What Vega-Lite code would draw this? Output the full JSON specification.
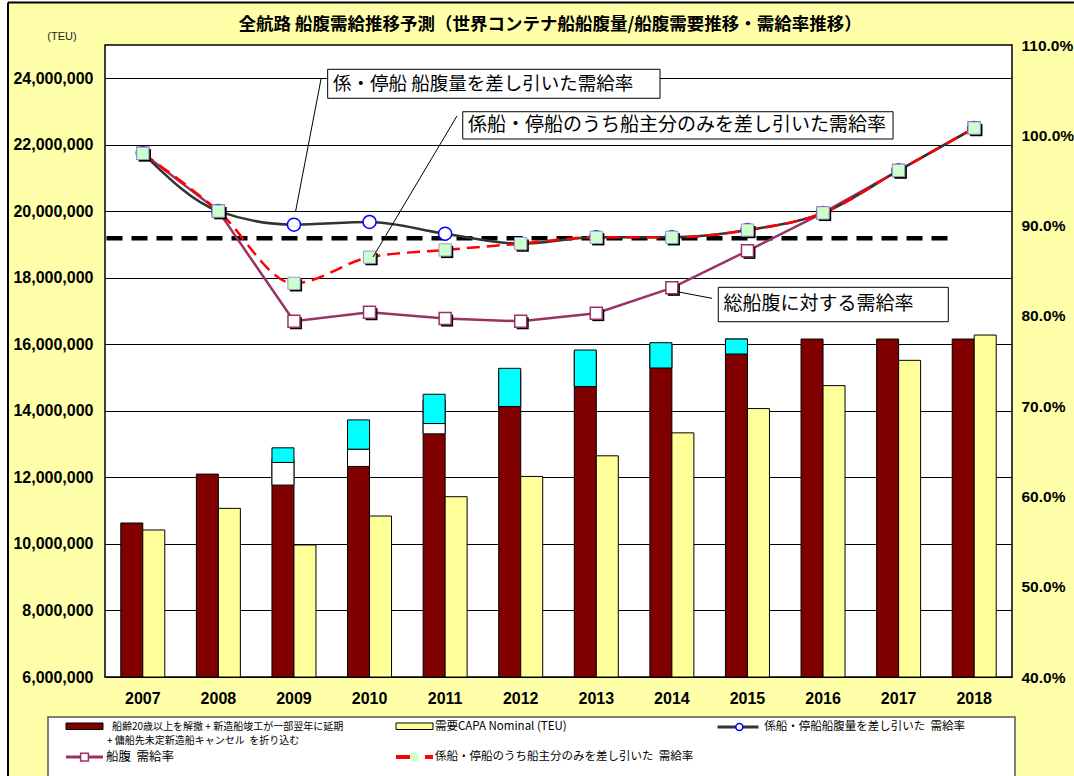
{
  "$schema": "https://vega.github.io/schema/vega-lite/v6.json",
  "width": 907,
  "height": 632,
  "autosize": {"type": "none"},
  "padding": {"left": 105, "top": 45, "right": 62, "bottom": 99},
  "background": "#FFFFAA",
  "config": {"view": {"fill": "white", "stroke": "black", "strokeWidth": 1.5}},
  "resolve": {"scale": {"x": "independent", "y": "independent"}},
  "layer": [
    {
      "data": {"values": [
        {"year": "2007", "series": "船腹", "teu": 10630000},
        {"year": "2008", "series": "船腹", "teu": 12100000},
        {"year": "2009", "series": "船腹", "teu": 12550000},
        {"year": "2010", "series": "船腹", "teu": 13460000},
        {"year": "2011", "series": "船腹", "teu": 14330000},
        {"year": "2012", "series": "船腹", "teu": 15180000},
        {"year": "2013", "series": "船腹", "teu": 15770000},
        {"year": "2014", "series": "船腹", "teu": 16010000},
        {"year": "2015", "series": "船腹", "teu": 16160000},
        {"year": "2016", "series": "船腹", "teu": 16160000},
        {"year": "2017", "series": "船腹", "teu": 16160000},
        {"year": "2018", "series": "船腹", "teu": 16160000},
        {"year": "2007", "series": "需要CAPA", "teu": 10420000},
        {"year": "2008", "series": "需要CAPA", "teu": 11070000},
        {"year": "2009", "series": "需要CAPA", "teu": 9970000},
        {"year": "2010", "series": "需要CAPA", "teu": 10840000},
        {"year": "2011", "series": "需要CAPA", "teu": 11420000},
        {"year": "2012", "series": "需要CAPA", "teu": 12030000},
        {"year": "2013", "series": "需要CAPA", "teu": 12650000},
        {"year": "2014", "series": "需要CAPA", "teu": 13340000},
        {"year": "2015", "series": "需要CAPA", "teu": 14070000},
        {"year": "2016", "series": "需要CAPA", "teu": 14760000},
        {"year": "2017", "series": "需要CAPA", "teu": 15520000},
        {"year": "2018", "series": "需要CAPA", "teu": 16280000}
      ]},
      "layer": [
        {
          "mark": {"type": "bar", "stroke": "black", "strokeWidth": 1},
          "encoding": {
            "x": {"field": "year", "type": "ordinal", "title": null, "scale": {"type": "band", "paddingInner": 0, "paddingOuter": 0},
                  "axis": {"orient": "bottom", "labelAngle": 0, "labelFont": "Liberation Sans", "labelFontWeight": "bold", "labelFontSize": 16, "labelColor": "black", "labelPadding": 13, "ticks": false, "domain": false, "grid": false, "title": null}},
            "xOffset": {"field": "series", "type": "nominal", "scale": {"domain": ["船腹", "需要CAPA"], "paddingInner": 0, "paddingOuter": 0.718}},
            "y": {"field": "teu", "type": "quantitative", "title": null, "scale": {"domain": [6000000, 25000000], "nice": false, "zero": false},
                  "axis": {"orient": "left", "values": [6000000, 8000000, 10000000, 12000000, 14000000, 16000000, 18000000, 20000000, 22000000, 24000000], "labelExpr": "format(datum.value, ',')", "labelFont": "Liberation Sans", "labelFontWeight": "bold", "labelFontSize": 16, "labelColor": "black", "labelPadding": 12, "ticks": false, "domain": false, "grid": true, "gridColor": "black", "gridWidth": 1, "gridOpacity": 1, "title": null}},
            "y2": {"datum": 6000000},
            "color": {"field": "series", "type": "nominal", "scale": {"domain": ["船腹", "需要CAPA", "停船", "船主分"], "range": ["#800000", "#FFFF99", "#00FFFF", "#FFFFFF"]}, "legend": null}
          }
        },
        {
          "data": {"values": [
            {"year": "2009", "series": "船腹", "part": "船主分", "lo": 11770000, "hi": 12450000},
            {"year": "2009", "series": "船腹", "part": "停船", "lo": 12450000, "hi": 12890000},
            {"year": "2010", "series": "船腹", "part": "船主分", "lo": 12330000, "hi": 12850000},
            {"year": "2010", "series": "船腹", "part": "停船", "lo": 12850000, "hi": 13730000},
            {"year": "2011", "series": "船腹", "part": "船主分", "lo": 13310000, "hi": 13620000},
            {"year": "2011", "series": "船腹", "part": "停船", "lo": 13620000, "hi": 14500000},
            {"year": "2012", "series": "船腹", "part": "停船", "lo": 14130000, "hi": 15280000},
            {"year": "2013", "series": "船腹", "part": "停船", "lo": 14730000, "hi": 15830000},
            {"year": "2014", "series": "船腹", "part": "停船", "lo": 15290000, "hi": 16050000},
            {"year": "2015", "series": "船腹", "part": "停船", "lo": 15710000, "hi": 16160000}
          ]},
          "mark": {"type": "bar", "stroke": "black", "strokeWidth": 1},
          "encoding": {
            "x": {"field": "year", "type": "ordinal", "title": null},
            "xOffset": {"field": "series", "type": "nominal"},
            "y": {"field": "lo", "type": "quantitative", "title": null,
                  "axis": {"orient": "left", "values": [6000000, 8000000, 10000000, 12000000, 14000000, 16000000, 18000000, 20000000, 22000000, 24000000], "labelExpr": "format(datum.value, ',')", "labelFont": "Liberation Sans", "labelFontWeight": "bold", "labelFontSize": 16, "labelColor": "black", "labelPadding": 12, "ticks": false, "domain": false, "grid": true, "gridColor": "black", "gridWidth": 1, "gridOpacity": 1, "title": null}},
            "y2": {"field": "hi"},
            "color": {"field": "part", "type": "nominal", "legend": null}
          }
        }
      ]
    },
    {
      "data": {"values": [{}]},
      "mark": {"type": "rule", "stroke": "black", "strokeWidth": 4.5, "strokeDash": [16, 9]},
      "encoding": {
        "x": {"datum": 0.02, "type": "quantitative", "scale": {"domain": [0, 12], "nice": false, "zero": false}, "axis": null},
        "x2": {"datum": 11.22},
        "y": {"datum": 0.886, "type": "quantitative", "scale": {"domain": [0.4, 1.1], "nice": false, "zero": false}, "axis": null}
      }
    },
    {
      "data": {"values": [
        {"year": "2007", "series": "総船腹", "rate": 0.980},
        {"year": "2008", "series": "総船腹", "rate": 0.916},
        {"year": "2009", "series": "総船腹", "rate": 0.794},
        {"year": "2010", "series": "総船腹", "rate": 0.804},
        {"year": "2011", "series": "総船腹", "rate": 0.797},
        {"year": "2012", "series": "総船腹", "rate": 0.794},
        {"year": "2013", "series": "総船腹", "rate": 0.803},
        {"year": "2014", "series": "総船腹", "rate": 0.831},
        {"year": "2015", "series": "総船腹", "rate": 0.872},
        {"year": "2016", "series": "総船腹", "rate": 0.914},
        {"year": "2017", "series": "総船腹", "rate": 0.961},
        {"year": "2018", "series": "総船腹", "rate": 1.008},
        {"year": "2007", "series": "係船停船控除", "rate": 0.980},
        {"year": "2008", "series": "係船停船控除", "rate": 0.916},
        {"year": "2009", "series": "係船停船控除", "rate": 0.901},
        {"year": "2010", "series": "係船停船控除", "rate": 0.904},
        {"year": "2011", "series": "係船停船控除", "rate": 0.891},
        {"year": "2012", "series": "係船停船控除", "rate": 0.880},
        {"year": "2013", "series": "係船停船控除", "rate": 0.887},
        {"year": "2014", "series": "係船停船控除", "rate": 0.887},
        {"year": "2015", "series": "係船停船控除", "rate": 0.895},
        {"year": "2016", "series": "係船停船控除", "rate": 0.914},
        {"year": "2017", "series": "係船停船控除", "rate": 0.961},
        {"year": "2018", "series": "係船停船控除", "rate": 1.008},
        {"year": "2007", "series": "船主分控除", "rate": 0.980},
        {"year": "2008", "series": "船主分控除", "rate": 0.916},
        {"year": "2009", "series": "船主分控除", "rate": 0.836},
        {"year": "2010", "series": "船主分控除", "rate": 0.865},
        {"year": "2011", "series": "船主分控除", "rate": 0.873},
        {"year": "2012", "series": "船主分控除", "rate": 0.880},
        {"year": "2013", "series": "船主分控除", "rate": 0.887},
        {"year": "2014", "series": "船主分控除", "rate": 0.887},
        {"year": "2015", "series": "船主分控除", "rate": 0.895},
        {"year": "2016", "series": "船主分控除", "rate": 0.914},
        {"year": "2017", "series": "船主分控除", "rate": 0.961},
        {"year": "2018", "series": "船主分控除", "rate": 1.008}
      ]},
      "encoding": {
        "x": {"field": "year", "type": "ordinal", "scale": {"type": "band", "paddingInner": 0, "paddingOuter": 0}, "axis": null},
        "y": {"field": "rate", "type": "quantitative", "scale": {"domain": [0.4, 1.1], "nice": false, "zero": false},
              "axis": {"orient": "right", "values": [0.4, 0.5, 0.6, 0.7, 0.8, 0.9, 1.0, 1.1], "format": ".1%", "labelFont": "Liberation Sans", "labelFontWeight": "bold", "labelFontSize": 15.5, "labelColor": "black", "labelPadding": 9, "ticks": false, "domain": false, "grid": false, "title": null}}
      },
      "layer": [
        {"transform": [{"filter": "datum.series === '総船腹'"}], "mark": {"type": "line", "stroke": "#993366", "strokeWidth": 2.5}, "encoding": {}},
        {"transform": [{"filter": "datum.series === '総船腹'"}], "mark": {"type": "point", "shape": "square", "size": 144, "filled": true, "fill": "black", "opacity": 1, "xOffset": 2, "yOffset": 2}},
        {"transform": [{"filter": "datum.series === '総船腹'"}], "mark": {"type": "point", "shape": "square", "size": 144, "filled": true, "fill": "white", "stroke": "#993366", "strokeWidth": 1.5, "opacity": 1}},
        {"transform": [{"filter": "datum.series === '係船停船控除'"}], "mark": {"type": "line", "stroke": "#333333", "strokeWidth": 2.5, "interpolate": "monotone"}, "encoding": {}},
        {"transform": [{"filter": "datum.series === '係船停船控除'"}], "mark": {"type": "point", "shape": "circle", "size": 170, "filled": true, "fill": "white", "stroke": "#0000FF", "strokeWidth": 1.5, "opacity": 1}},
        {"transform": [{"filter": "datum.series === '船主分控除'"}], "mark": {"type": "line", "stroke": "#FF0000", "strokeWidth": 2.5, "strokeDash": [13, 7], "interpolate": "monotone"}, "encoding": {}},
        {"transform": [{"filter": "datum.series === '船主分控除'"}], "mark": {"type": "point", "shape": "square", "size": 150, "filled": true, "fill": "black", "opacity": 1, "xOffset": 2, "yOffset": 2}},
        {"transform": [{"filter": "datum.series === '船主分控除'"}], "mark": {"type": "point", "shape": "square", "size": 150, "filled": true, "fill": "#CCFFCC", "stroke": "#9999CC", "strokeWidth": 1, "opacity": 1}}
      ]
    },
    {
      "data": {"values": [{}]},
      "layer": [
        {"mark": {"type": "rect", "fill": "white"}, "encoding": {"x": {"datum": -1.3893, "type": "quantitative", "scale": {"domain": [0, 12], "nice": false, "zero": false}, "axis": null}, "x2": {"datum": -1.2834}, "y": {"datum": 0.2638, "type": "quantitative", "scale": {"domain": [0.4, 1.1], "nice": false, "zero": false}, "axis": null}, "y2": {"datum": 1.1498}}},
        {"mark": {"type": "rect", "fill": "white"}, "encoding": {"x": {"datum": -1.3893, "type": "quantitative", "axis": null}, "x2": {"datum": 12.82}, "y": {"datum": 1.1476, "type": "quantitative", "axis": null}, "y2": {"datum": 1.1498}}},
        {"mark": {"type": "rule", "stroke": "black", "strokeWidth": 2}, "encoding": {"x": {"datum": -1.2834, "type": "quantitative", "axis": null}, "y": {"datum": 0.2638, "type": "quantitative", "axis": null}, "y2": {"datum": 1.1471}}},
        {"mark": {"type": "rule", "stroke": "black", "strokeWidth": 2}, "encoding": {"x": {"datum": -1.2834, "type": "quantitative", "axis": null}, "x2": {"datum": 12.82}, "y": {"datum": 1.1471, "type": "quantitative", "axis": null}}},
        {"mark": {"type": "text", "align": "center", "baseline": "middle", "font": "Noto Sans CJK JP", "fontSize": 17.5, "fontWeight": "bold", "color": "black"}, "encoding": {"x": {"datum": 5.888, "type": "quantitative", "axis": null}, "y": {"datum": 1.1221, "type": "quantitative", "axis": null}, "text": {"value": "全航路 船腹需給推移予測（世界コンテナ船船腹量/船腹需要推移・需給率推移）"}}},
        {"mark": {"type": "text", "align": "center", "baseline": "middle", "font": "Liberation Sans", "fontSize": 11, "color": "#222222"}, "encoding": {"x": {"datum": -0.569, "type": "quantitative", "axis": null}, "y": {"datum": 1.1089, "type": "quantitative", "axis": null}, "text": {"value": "(TEU)"}}},

        {"mark": {"type": "rule", "stroke": "black", "strokeWidth": 1}, "encoding": {"x": {"datum": 2.858, "type": "quantitative", "axis": null}, "y": {"datum": 1.0623, "type": "quantitative", "axis": null}, "x2": {"datum": 2.52}, "y2": {"datum": 0.915}}},
        {"mark": {"type": "rule", "stroke": "black", "strokeWidth": 1}, "encoding": {"x": {"datum": 4.657, "type": "quantitative", "axis": null}, "y": {"datum": 1.0214, "type": "quantitative", "axis": null}, "x2": {"datum": 3.546}, "y2": {"datum": 0.8652}}},
        {"mark": {"type": "rule", "stroke": "black", "strokeWidth": 1}, "encoding": {"x": {"datum": 8.031, "type": "quantitative", "axis": null}, "y": {"datum": 0.8194, "type": "quantitative", "axis": null}, "x2": {"datum": 7.568}, "y2": {"datum": 0.8268}}},
        {"mark": {"type": "rect", "fill": "white", "stroke": "black", "strokeWidth": 1}, "encoding": {"x": {"datum": 2.946, "type": "quantitative", "axis": null}, "x2": {"datum": 7.343}, "y": {"datum": 1.0731, "type": "quantitative", "axis": null}, "y2": {"datum": 1.041}}},
        {"mark": {"type": "rect", "fill": "white", "stroke": "black", "strokeWidth": 1}, "encoding": {"x": {"datum": 4.733, "type": "quantitative", "axis": null}, "x2": {"datum": 10.426}, "y": {"datum": 1.0261, "type": "quantitative", "axis": null}, "y2": {"datum": 0.9959}}},
        {"mark": {"type": "rect", "fill": "white", "stroke": "black", "strokeWidth": 1}, "encoding": {"x": {"datum": 8.114, "type": "quantitative", "axis": null}, "x2": {"datum": 11.157}, "y": {"datum": 0.8316, "type": "quantitative", "axis": null}, "y2": {"datum": 0.7935}}},
        {"mark": {"type": "text", "align": "left", "baseline": "middle", "font": "Noto Sans CJK JP", "fontSize": 18.5, "color": "black"}, "encoding": {"x": {"datum": 3.017, "type": "quantitative", "axis": null}, "y": {"datum": 1.0568, "type": "quantitative", "axis": null}, "text": {"value": "係・停船 船腹量を差し引いた需給率"}}},
        {"mark": {"type": "text", "align": "left", "baseline": "middle", "font": "Noto Sans CJK JP", "fontSize": 19, "color": "black"}, "encoding": {"x": {"datum": 4.803, "type": "quantitative", "axis": null}, "y": {"datum": 1.0111, "type": "quantitative", "axis": null}, "text": {"value": "係船・停船のうち船主分のみを差し引いた需給率"}}},
        {"mark": {"type": "text", "align": "left", "baseline": "middle", "font": "Noto Sans CJK JP", "fontSize": 19, "color": "black"}, "encoding": {"x": {"datum": 8.183, "type": "quantitative", "axis": null}, "y": {"datum": 0.8126, "type": "quantitative", "axis": null}, "text": {"value": "総船腹に対する需給率"}}},

        {"mark": {"type": "rect", "fill": "white", "stroke": "#555555", "strokeWidth": 1.5}, "encoding": {"x": {"datum": -0.7541, "type": "quantitative", "axis": null}, "x2": {"datum": 12.0397}, "y": {"datum": 0.3557, "type": "quantitative", "axis": null}, "y2": {"datum": 0.2638}}},
        {"mark": {"type": "rect", "fill": "#800000", "stroke": "black", "strokeWidth": 1}, "encoding": {"x": {"datum": -0.516, "type": "quantitative", "axis": null}, "x2": {"datum": -0.0265}, "y": {"datum": 0.34905, "type": "quantitative", "axis": null}, "y2": {"datum": 0.34185}}},
        {"mark": {"type": "text", "align": "left", "baseline": "middle", "font": "Noto Sans CJK JP", "fontSize": 10, "color": "black"}, "encoding": {"x": {"datum": 0.0926, "type": "quantitative", "axis": null}, "y": {"datum": 0.34462, "type": "quantitative", "axis": null}, "text": {"value": "船齢20歳以上を解撤 + 新造船竣工が一部翌年に延期"}}},
        {"mark": {"type": "text", "align": "left", "baseline": "middle", "font": "Noto Sans CJK JP", "fontSize": 10, "color": "black"}, "encoding": {"x": {"datum": 0.0265, "type": "quantitative", "axis": null}, "y": {"datum": 0.32911, "type": "quantitative", "axis": null}, "text": {"value": "+ 傭船先未定新造船キャンセル\u00a0\u00a0を折り込む"}}},
        {"mark": {"type": "rect", "fill": "#FFFF99", "stroke": "black", "strokeWidth": 1}, "encoding": {"x": {"datum": 3.85, "type": "quantitative", "axis": null}, "x2": {"datum": 4.3396}, "y": {"datum": 0.34905, "type": "quantitative", "axis": null}, "y2": {"datum": 0.34185}}},
        {"mark": {"type": "text", "align": "left", "baseline": "middle", "font": "Noto Sans CJK JP", "fontSize": 11.5, "color": "black"}, "encoding": {"x": {"datum": 4.366, "type": "quantitative", "axis": null}, "y": {"datum": 0.34462, "type": "quantitative", "axis": null}, "text": {"value": "需要CAPA Nominal (TEU)"}}},
        {"mark": {"type": "rule", "stroke": "#333333", "strokeWidth": 3}, "encoding": {"x": {"datum": 8.1036, "type": "quantitative", "axis": null}, "x2": {"datum": 8.6461}, "y": {"datum": 0.34462, "type": "quantitative", "axis": null}}},
        {"mark": {"type": "point", "shape": "circle", "size": 50, "filled": true, "fill": "white", "stroke": "#0000FF", "strokeWidth": 1.5, "opacity": 1}, "encoding": {"x": {"datum": 8.3926, "type": "quantitative", "axis": null}, "y": {"datum": 0.34462, "type": "quantitative", "axis": null}}},
        {"mark": {"type": "text", "align": "left", "baseline": "middle", "font": "Noto Sans CJK JP", "fontSize": 11.5, "color": "black"}, "encoding": {"x": {"datum": 8.7229, "type": "quantitative", "axis": null}, "y": {"datum": 0.34462, "type": "quantitative", "axis": null}, "text": {"value": "係船・停船船腹量を差し引いた\u00a0\u00a0需給率"}}},
        {"mark": {"type": "rule", "stroke": "#993366", "strokeWidth": 3}, "encoding": {"x": {"datum": -0.516, "type": "quantitative", "axis": null}, "x2": {"datum": -0.0265}, "y": {"datum": 0.31139, "type": "quantitative", "axis": null}}},
        {"mark": {"type": "point", "shape": "square", "size": 60, "filled": true, "fill": "white", "stroke": "#993366", "strokeWidth": 1.5, "opacity": 1}, "encoding": {"x": {"datum": -0.2712, "type": "quantitative", "axis": null}, "y": {"datum": 0.31139, "type": "quantitative", "axis": null}}},
        {"mark": {"type": "text", "align": "left", "baseline": "middle", "font": "Noto Sans CJK JP", "fontSize": 12.5, "color": "black"}, "encoding": {"x": {"datum": 0.0132, "type": "quantitative", "axis": null}, "y": {"datum": 0.31139, "type": "quantitative", "axis": null}, "text": {"value": "船腹\u00a0\u00a0需給率"}}},
        {"mark": {"type": "rule", "stroke": "#FF0000", "strokeWidth": 4}, "encoding": {"x": {"datum": 3.85, "type": "quantitative", "axis": null}, "x2": {"datum": 4.0353}, "y": {"datum": 0.31139, "type": "quantitative", "axis": null}}},
        {"mark": {"type": "rule", "stroke": "#FF0000", "strokeWidth": 4}, "encoding": {"x": {"datum": 4.2337, "type": "quantitative", "axis": null}, "x2": {"datum": 4.3396}, "y": {"datum": 0.31139, "type": "quantitative", "axis": null}}},
        {"mark": {"type": "point", "shape": "square", "size": 70, "filled": true, "fill": "#CCFFCC", "opacity": 1}, "encoding": {"x": {"datum": 4.0948, "type": "quantitative", "axis": null}, "y": {"datum": 0.31139, "type": "quantitative", "axis": null}}},
        {"mark": {"type": "text", "align": "left", "baseline": "middle", "font": "Noto Sans CJK JP", "fontSize": 11.5, "color": "black"}, "encoding": {"x": {"datum": 4.366, "type": "quantitative", "axis": null}, "y": {"datum": 0.31139, "type": "quantitative", "axis": null}, "text": {"value": "係船・停船のうち船主分のみを差し引いた\u00a0\u00a0需給率"}}}
      ]
    }
  ]
}
